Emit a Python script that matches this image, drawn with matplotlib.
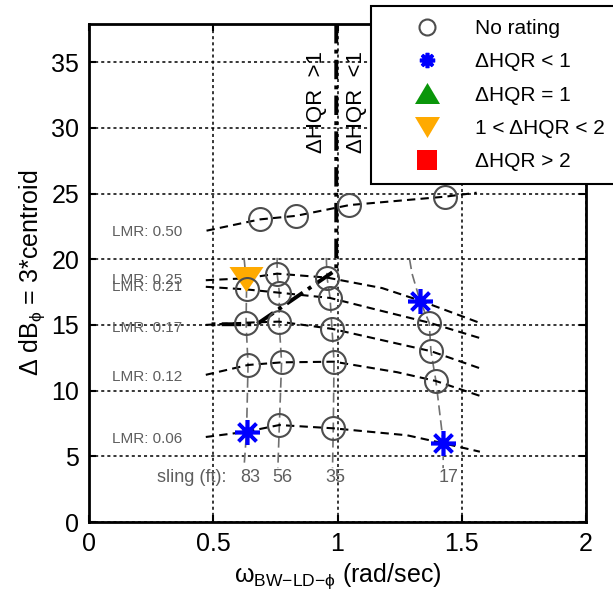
import matplotlib
matplotlib.use('Agg')
import matplotlib.pyplot as plt
from matplotlib.lines import Line2D

plt.rcParams['font.family'] = ['Liberation Sans', 'DejaVu Sans']
plt.rcParams['mathtext.fontset'] = 'custom'
plt.rcParams['mathtext.rm'] = 'Liberation Sans'
plt.rcParams['mathtext.it'] = 'Liberation Sans:italic'
plt.rcParams['mathtext.bf'] = 'Liberation Sans:bold'

# constant-LMR curves
lmr_labels = ['LMR: 0.50', 'LMR: 0.25', 'LMR: 0.21', 'LMR: 0.17', 'LMR: 0.12', 'LMR: 0.06']
lmr_label_y = [22.1, 18.4, 17.85, 14.8, 11.05, 6.3]
lmr_x = [
    [0.473, 0.688, 0.833, 1.048, 1.433, 1.56],
    [0.47, 0.632, 0.757, 0.958, 1.18, 1.332, 1.573],
    [0.47, 0.634, 0.766, 0.97, 1.17, 1.369, 1.573],
    [0.47, 0.632, 0.765, 0.978, 1.376, 1.573],
    [0.47, 0.64, 0.775, 0.986, 1.24, 1.396, 1.573],
    [0.47, 0.634, 0.766, 0.983, 1.28, 1.426, 1.573],
]
lmr_y = [
    [22.17, 23.03, 23.3, 24.12, 24.76, 25.06],
    [18.4, 18.55, 18.9, 18.6, 17.8, 16.85, 15.15],
    [17.9, 17.7, 17.45, 17.05, 16.1, 15.17, 14.0],
    [15.0, 15.17, 15.25, 14.7, 13.0, 11.7],
    [11.2, 11.95, 12.15, 12.2, 11.4, 10.73, 9.6],
    [6.47, 6.87, 7.38, 7.13, 6.6, 5.99, 5.35],
]

# constant sling length curves
sling_labels = ['83', '56', '35', '17']
sling_label_x = [0.647, 0.777, 0.99, 1.445]
sling_x = [
    [0.624, 0.632, 0.634, 0.632, 0.64, 0.634, 0.624],
    [0.757, 0.757, 0.766, 0.765, 0.775, 0.766, 0.76],
    [0.955, 0.958, 0.97, 0.978, 0.986, 0.983, 0.98],
    [1.29, 1.30, 1.332, 1.369, 1.376, 1.396, 1.426, 1.425],
]
sling_y = [
    [20.1, 18.5, 17.7, 15.17, 11.95, 6.87, 4.2],
    [20.1, 18.9, 17.45, 15.25, 12.15, 7.38, 4.1],
    [20.1, 18.6, 17.05, 14.7, 12.2, 7.13, 4.1],
    [20.0, 18.9, 16.84, 15.17, 13.0, 10.73, 5.99, 4.1],
]

# rated / unrated points
none_x = [0.688, 0.833, 1.048, 1.433, 0.757, 0.958, 0.634, 0.766, 0.97, 1.369,
          0.632, 0.765, 0.978, 1.376, 0.64, 0.775, 0.986, 1.396, 0.766, 0.983]
none_y = [23.03, 23.3, 24.12, 24.76, 18.9, 18.6, 17.7, 17.45, 17.05, 15.17,
          15.17, 15.25, 14.7, 13.0, 11.95, 12.15, 12.2, 10.73, 7.38, 7.13]
lt1_x = [0.634, 1.332, 1.426]
lt1_y = [6.87, 16.84, 5.99]
mid_x = [0.632]
mid_y = [18.5]

# dHQR = 1 boundary
bound_x = [0.995, 0.995, 0.675, 0.48]
bound_y = [37.9, 19.2, 15.05, 15.05]

gray = '#4d4d4d'
tgray = '#5e5e5e'
tri_dn = [(-1, 0.735), (1, 0.735), (0, -0.735)]
tri_dn_l = [(-1, 0.84), (1, 0.84), (0, -0.84)]
tri_up_l = [(-1, -0.84), (1, -0.84), (0, 0.84)]

fig = plt.figure(figsize=(6.13, 5.92), dpi=100)
ax = fig.add_axes([89 / 613, 70 / 592, 497 / 613, 498 / 592])

ax.grid(True, color='black', linestyle=(0, (2, 2)), linewidth=1.1)
ax.set_axisbelow(True)

for xs, ys in zip(lmr_x, lmr_y):
    ax.plot(xs, ys, color='black', linestyle=(0, (4, 2.5)), linewidth=1.5, zorder=3)
for lab, yy in zip(lmr_labels, lmr_label_y):
    ax.text(0.091, yy, lab, color=tgray, fontsize=11, ha='left', va='center', zorder=4)

for xs, ys in zip(sling_x, sling_y):
    ax.plot(xs, ys, color='#707070', linestyle=(0, (6, 3)), linewidth=1.2, zorder=2)
ax.text(0.272, 3.35, 'sling (ft):', color=tgray, fontsize=13, ha='left', va='center')
for lab, xx in zip(sling_labels, sling_label_x):
    ax.text(xx, 3.35, lab, color=tgray, fontsize=13, ha='center', va='center')

ax.plot(bound_x, bound_y, color='black', linewidth=2.8,
        linestyle=(0, (5, 1.6, 1, 1.6)), zorder=5)
ax.text(0.917, 32.0, 'ΔHQR  >1', rotation=90, fontsize=16, ha='center', va='center')
ax.text(1.078, 32.0, 'ΔHQR  <1', rotation=90, fontsize=16, ha='center', va='center')

ax.plot(none_x, none_y, linestyle='none', marker='o', markersize=16.5,
        markerfacecolor='none', markeredgecolor=gray, markeredgewidth=1.5, zorder=6)
ax.plot(mid_x, mid_y, linestyle='none', marker=tri_dn, markersize=24.5,
        color='#ffaa00', markeredgewidth=0, zorder=5)
ax.plot(lt1_x, lt1_y, linestyle='none', marker=(8, 2, 0), markersize=18,
        markeredgecolor='#0000ff', markeredgewidth=2.6, zorder=7)

ax.set_xlim(0, 2)
ax.set_ylim(0, 37.9)
ax.set_xticks([0, 0.5, 1, 1.5, 2])
ax.set_xticklabels(['0', '0.5', '1', '1.5', '2'])
ax.set_yticks([0, 5, 10, 15, 20, 25, 30, 35])
ax.tick_params(direction='in', top=True, right=True, length=5, width=1.5,
               labelsize=18, pad=7)
for s in ax.spines.values():
    s.set_linewidth(2)

ax.set_xlabel(r'$\mathrm{\omega}_{\mathrm{BW{-}LD{-}\phi}}$ (rad/sec)', fontsize=18, labelpad=4)
ax.set_ylabel(r'$\mathrm{\Delta}$ dB$_{\mathrm{\phi}}$ = 3*centroid', fontsize=18, labelpad=3)

handles = [
    Line2D([], [], linestyle='none', marker='o', markersize=11.5,
           markerfacecolor='none', markeredgecolor=gray, markeredgewidth=1.5),
    Line2D([], [], linestyle='none', marker=(8, 2, 0), markersize=11,
           markeredgecolor='#0000ff', markeredgewidth=2.6),
    Line2D([], [], linestyle='none', marker=tri_up_l, markersize=18,
           color='#0a960a', markeredgewidth=0),
    Line2D([], [], linestyle='none', marker=tri_dn_l, markersize=18,
           color='#ffaa00', markeredgewidth=0),
    Line2D([], [], linestyle='none', marker='s', markersize=14.5,
           color='#ff0000', markeredgewidth=0),
]
labels = ['No rating', 'ΔHQR < 1', 'ΔHQR = 1', '1 < ΔHQR < 2', 'ΔHQR > 2']
leg = fig.legend(handles, labels, loc='upper left', bbox_to_anchor=(371 / 613, 1 - 6 / 592),
                 fontsize=15, frameon=True, fancybox=False, framealpha=1,
                 edgecolor='black', borderpad=0.62, handlelength=4.1,
                 handletextpad=0.25, labelspacing=0.69, borderaxespad=0)
leg.get_frame().set_linewidth(1.5)

fig.savefig('out.png', dpi=100)
